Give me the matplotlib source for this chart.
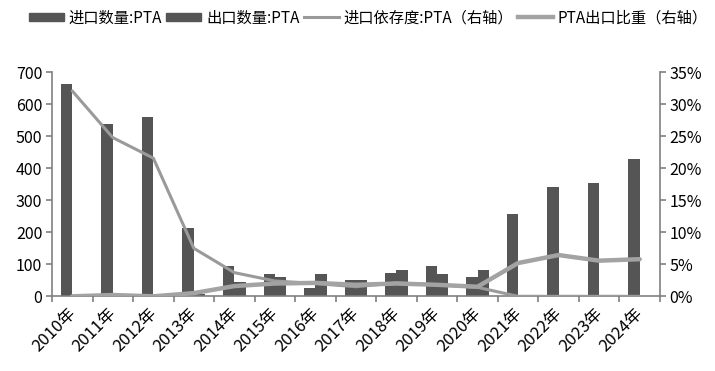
import matplotlib
matplotlib.use("Agg")
import matplotlib.pyplot as plt
import numpy as np
from matplotlib.patches import Patch
from matplotlib.lines import Line2D
from matplotlib.ticker import FuncFormatter, MultipleLocator

plt.rcParams['font.family'] = ['Noto Sans CJK SC', 'DejaVu Sans']

years = ["2010年", "2011年", "2012年", "2013年", "2014年", "2015年", "2016年", "2017年",
         "2018年", "2019年", "2020年", "2021年", "2022年", "2023年", "2024年"]
imports = [665, 537, 559, 212, 95, 69, 26, 51, 74, 96, 61, 256, 342, 353, 430]
exports = [1, 1, 1, 6, 46, 61, 70, 51, 82, 69, 82, 1, 1, 1, 1]
import_dep = [0.321, 0.248, 0.216, 0.075, 0.037, 0.024, 0.020, 0.015, 0.021, 0.018, 0.014,
              0.0, 0.0, 0.0, 0.0]
export_ratio = [0.0, 0.002, 0.0, 0.005, 0.016, 0.020, 0.021, 0.018, 0.020, 0.018, 0.015,
                0.052, 0.0645, 0.0557, 0.058]

legend_labels = ["进口数量:PTA", "出口数量:PTA", "进口依存度:PTA（右轴）", "PTA出口比重（右轴）"]

bar_color = "#555555"
line1_color = "#9a9a9a"
line2_color = "#a3a3a3"
spine_color = "#808080"

fig = plt.figure(figsize=(7.15, 3.71), dpi=100)
ax = fig.add_axes([0.0727, 0.2013, 0.923 - 0.0727, 0.805 - 0.2013])
x = np.arange(len(years))
w = 0.28
ax.bar(x - w / 2, imports, width=w, color=bar_color, zorder=2)
ax.bar(x + w / 2, exports, width=w, color=bar_color, zorder=2)
ax.set_xlim(-0.5, len(years) - 0.5)
ax.set_ylim(0, 700)
ax.yaxis.set_major_locator(MultipleLocator(100))

ax2 = ax.twinx()
ax2.plot(x, import_dep, color=line1_color, lw=2.2, solid_capstyle='round', zorder=3)
ax2.plot(x, export_ratio, color=line2_color, lw=3.2, solid_capstyle='round', zorder=3)
ax2.set_ylim(0, 0.35)
ax2.yaxis.set_major_locator(MultipleLocator(0.05))
ax2.yaxis.set_major_formatter(FuncFormatter(lambda v, p: f"{v*100:.0f}%"))

for a in (ax, ax2):
    a.spines['top'].set_visible(False)
    for s in ('left', 'right', 'bottom'):
        a.spines[s].set_color(spine_color)
        a.spines[s].set_linewidth(1.2)
ax.spines['right'].set_visible(False)
ax2.spines['left'].set_visible(False)
ax2.spines['bottom'].set_visible(False)

ax.tick_params(axis='y', direction='out', length=4, width=1.2, color=spine_color,
               labelsize=11.5, pad=3)
ax2.tick_params(axis='y', direction='out', length=4, width=1.2, color=spine_color,
                labelsize=11.5, pad=3)

ax.set_xticks(x)
ax.set_xticklabels(years, rotation=45, ha='right', va='top', fontsize=12)
ax.tick_params(axis='x', which='major', length=0, pad=6)
ax.set_xticks(np.arange(-0.5, len(years), 1.0), minor=True)
ax.tick_params(axis='x', which='minor', direction='out', length=4, width=1.2, color=spine_color)
for lbl in ax.get_xticklabels():
    lbl.set_transform(lbl.get_transform() + matplotlib.transforms.ScaledTranslation(7/100, 0, fig.dpi_scale_trans))

handles = [Patch(color=bar_color), Patch(color=bar_color),
           Line2D([], [], color=line1_color, lw=2.2),
           Line2D([], [], color=line2_color, lw=3.2)]
fig.legend(handles, legend_labels, loc='center', bbox_to_anchor=(0.515, 0.952), ncol=4,
           frameon=False, fontsize=11, handlelength=2.3, handleheight=0.5,
           handletextpad=0.3, columnspacing=0.3, borderaxespad=0)

fig.savefig("out.png", dpi=100)
